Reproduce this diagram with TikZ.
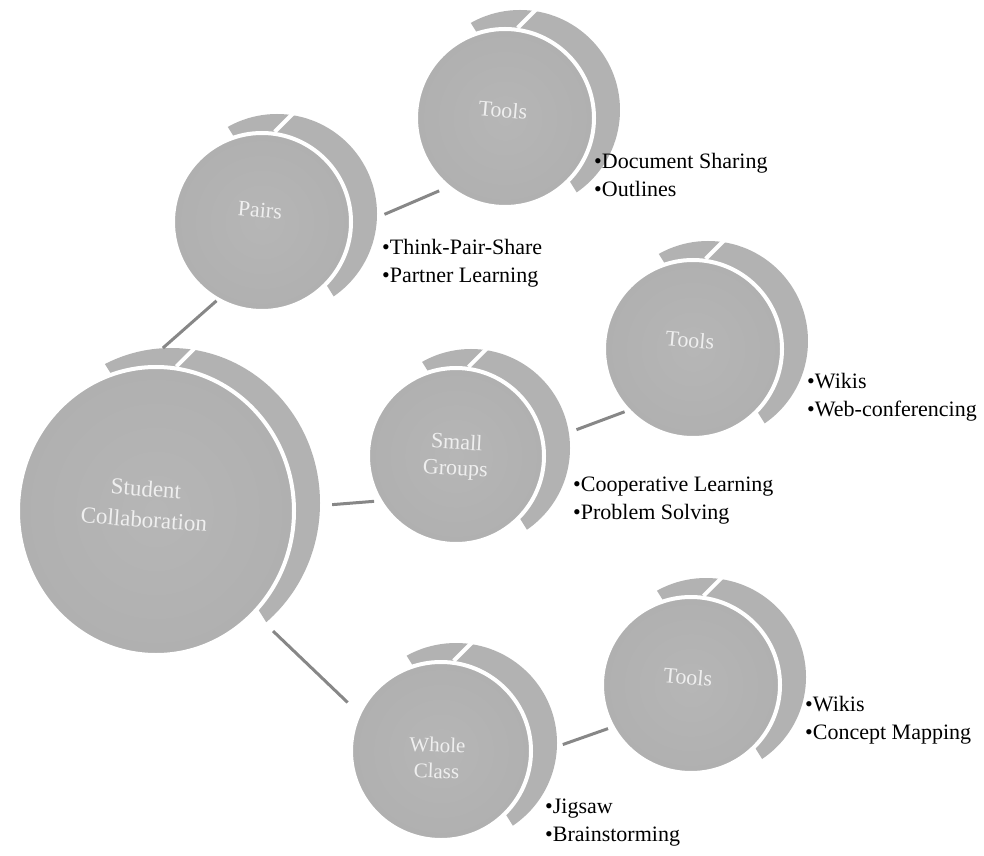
\documentclass[tikz,border=0pt]{standalone}
\usepackage{fontspec}
\setmainfont{Liberation Serif}
\usetikzlibrary{shapes.geometric,calc}

\definecolor{facein}{HTML}{B6B6B6}
\definecolor{faceout}{HTML}{9B9B9B}
\definecolor{bodyin}{HTML}{B2B2B2}
\definecolor{bodyout}{HTML}{989898}
\definecolor{linkgray}{HTML}{878787}
\definecolor{capgray}{HTML}{EFEFEF}

\pgfdeclareradialshading{faceshade}{\pgfpoint{0bp}{0bp}}{%
  color(0bp)=(facein); color(28bp)=(facein!75!faceout); color(50bp)=(faceout)}
\pgfdeclareradialshading{bodyshade}{\pgfpoint{0bp}{0bp}}{%
  color(0bp)=(bodyin); color(40bp)=(bodyin); color(50bp)=(bodyout)}

\tikzset{
  coinface/.style={ellipse, inner sep=0pt, shade, shading=faceshade, draw=white, line width=4pt},
  coinbody/.style={ellipse, inner sep=0pt, shade, shading=bodyshade},
  coinsep/.style={draw=white, line width=4pt},
  coincap/.style={text=capgray, align=center, inner sep=0pt,
                  font=\fontsize{22}{26}\selectfont},
  note/.style={anchor=west, align=left, inner sep=0pt,
               font=\fontsize{22}{28}\selectfont},
  link/.style={draw=linkgray, line width=3pt},
}

% #1 name, #2/#3 centre of the front face, #4/#5 radii of the front face
\newcommand{\drawcoin}[5]{%
  \begin{scope}
    \clip[shift={(#2,#3)},rotate=32] ({0.24*#5},{-3*#5}) rectangle ({3*#5},{3*#5});
    \node[coinbody, minimum width={2*(#4+11)*1pt}, minimum height={2*(#5+11)*1pt}]
      (#1-body) at ({#2+15},{#3+8}) {};
  \end{scope}
  \node[coinface, minimum width={2*#4*1pt}, minimum height={2*#5*1pt}] (#1) at (#2,#3) {};
  \draw[coinsep] (#1.82) -- ++(45:30);
}

\begin{document}
\begin{tikzpicture}[x=1pt,y=1pt]
  \useasboundingbox (0,0) rectangle (984,855);
  \fill[white] (0,0) rectangle (984,855);

  % discs
  \drawcoin{sc}{156}{344}{138}{144}
  \drawcoin{pairs}{262}{633}{89}{89}
  \drawcoin{tt}{505}{737}{89}{89}
  \drawcoin{sg}{456}{399}{88}{88}
  \drawcoin{tm}{693}{506}{89}{89}
  \drawcoin{wc}{441}{104}{90}{89}
  \drawcoin{tb}{691}{170}{89}{88}

  % captions on the discs
  \node[coincap, rotate=-4, font=\fontsize{23}{31}\selectfont] (sc-cap) at (145,351) {Student\\Collaboration};
  \node[coincap, rotate=-5] (pairs-cap) at (260,645) {Pairs};
  \node[coincap, rotate=-5] (tt-cap) at (503,745) {Tools};
  \node[coincap, rotate=-3] (sg-cap) at (456,398) {Small\\Groups};
  \node[coincap, rotate=-5] (tm-cap) at (690,515) {Tools};
  \node[coincap, rotate=-2, font=\fontsize{21}{26}\selectfont] (wc-cap) at (437,97) {Whole\\Class};
  \node[coincap, rotate=-5] (tb-cap) at (688,178) {Tools};

  % connectors
  \draw[link] (sc-body.93) -- (pairs.240);
  \draw[link, shorten <=12pt, shorten >=4pt] (sc-body.-1) -- (sg.210);
  \draw[link, shorten <=11pt, shorten >=14pt] (sc-body.-52) -- (wc.155);
  \draw[link, shorten <=8pt, shorten >=8pt] (pairs-body.-2) -- (tt.230);
  \draw[link, shorten <=8pt, shorten >=2pt] (sg-body.9) -- (tm.223);
  \draw[link, shorten <=6pt, shorten >=3pt] (wc-body.-2) -- (tb.208);

  % bullet lists
  \node[note] (pairs-note) at (382,592) {•Think-Pair-Share\\•Partner Learning};
  \node[note] (tt-note) at (594,680) {•Document Sharing\\•Outlines};
  \node[note] (sg-note) at (573,354) {•Cooperative Learning\\•Problem Solving};
  \node[note] (tm-note) at (807,458) {•Wikis\\•Web-conferencing};
  \node[note] (wc-note) at (545,32) {•Jigsaw\\•Brainstorming};
  \node[note] (tb-note) at (805,135) {•Wikis\\•Concept Mapping};
\end{tikzpicture}
\end{document}
